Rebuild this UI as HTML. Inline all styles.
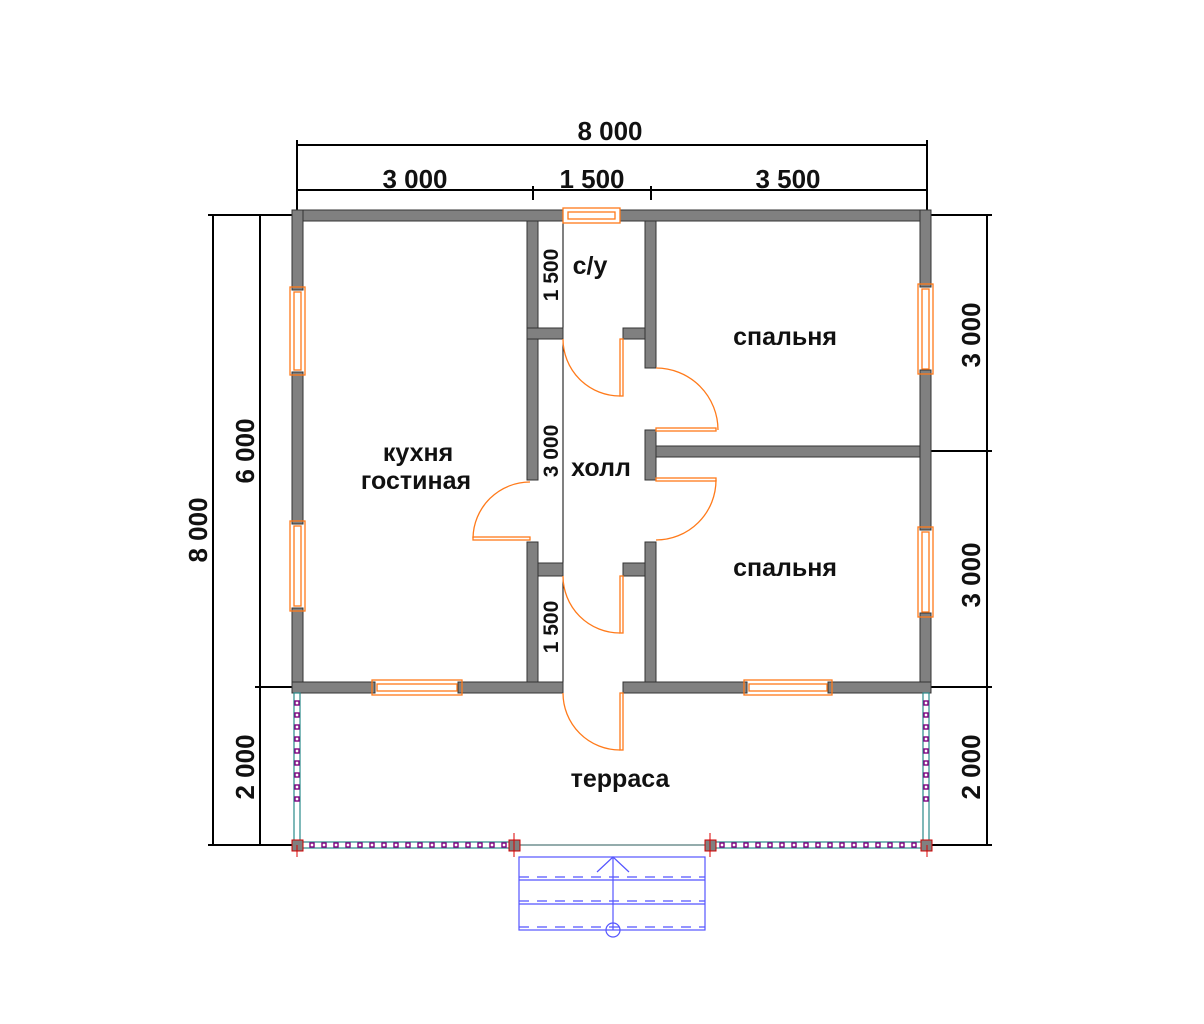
<!DOCTYPE html>
<html><head><meta charset="utf-8"><style>body{margin:0;background:#fff}svg{display:block}text{font-family:"Liberation Sans",sans-serif;font-weight:bold;fill:#111}</style></head><body>
<svg width="1204" height="1024" viewBox="0 0 1204 1024" xmlns="http://www.w3.org/2000/svg">
<g stroke="#000" stroke-width="2" fill="none">
<line x1="297" y1="145" x2="927" y2="145"/><line x1="297" y1="190" x2="927" y2="190"/>
<line x1="297" y1="140" x2="297" y2="210"/><line x1="927" y1="140" x2="927" y2="210"/>
<line x1="533" y1="186" x2="533" y2="200"/><line x1="651" y1="186" x2="651" y2="200"/>
<line x1="213" y1="215" x2="213" y2="845"/><line x1="260" y1="215" x2="260" y2="845"/>
<line x1="208" y1="215" x2="297" y2="215"/><line x1="255" y1="687" x2="297" y2="687"/><line x1="208" y1="845" x2="297" y2="845"/>
<line x1="987" y1="215" x2="987" y2="845"/>
<line x1="931" y1="215" x2="992" y2="215"/><line x1="931" y1="451" x2="992" y2="451"/><line x1="931" y1="687" x2="992" y2="687"/><line x1="931" y1="845" x2="992" y2="845"/>
</g>
<line x1="563" y1="212" x2="563" y2="690" stroke="#000" stroke-width="1"/>
<g font-size="26">
<text x="610" y="140" text-anchor="middle">8 000</text>
<text x="415" y="188" text-anchor="middle">3 000</text>
<text x="592" y="188" text-anchor="middle">1 500</text>
<text x="788" y="188" text-anchor="middle">3 500</text>
<text transform="translate(207,530) rotate(-90)" text-anchor="middle">8 000</text>
<text transform="translate(254,451) rotate(-90)" text-anchor="middle">6 000</text>
<text transform="translate(254,767) rotate(-90)" text-anchor="middle">2 000</text>
<text transform="translate(980,335) rotate(-90)" text-anchor="middle">3 000</text>
<text transform="translate(980,575) rotate(-90)" text-anchor="middle">3 000</text>
<text transform="translate(980,767) rotate(-90)" text-anchor="middle">2 000</text>
</g>
<g font-size="21">
<text transform="translate(558,275) rotate(-90)" text-anchor="middle">1 500</text>
<text transform="translate(558,451) rotate(-90)" text-anchor="middle">3 000</text>
<text transform="translate(558,627) rotate(-90)" text-anchor="middle">1 500</text>
</g>
<g fill="#808080" stroke="#333" stroke-width="1">
<rect x="292" y="210" width="271" height="11"/><rect x="620" y="210" width="311" height="11"/>
<rect x="292" y="210" width="11" height="80"/><rect x="292" y="372" width="11" height="152"/><rect x="292" y="608" width="11" height="85"/>
<rect x="920" y="210" width="11" height="77"/><rect x="920" y="370" width="11" height="160"/><rect x="920" y="613" width="11" height="80"/>
<rect x="292" y="682" width="83" height="11"/><rect x="458" y="682" width="105" height="11"/>
<rect x="623" y="682" width="124" height="11"/><rect x="828" y="682" width="103" height="11"/>
<rect x="527" y="221" width="11" height="107"/><rect x="527" y="328" width="36" height="11"/><rect x="527" y="339" width="11" height="141"/>
<rect x="527" y="542" width="11" height="140"/><rect x="538" y="563" width="25" height="13"/>
<rect x="645" y="221" width="11" height="147"/><rect x="623" y="328" width="22" height="11"/>
<rect x="645" y="430" width="11" height="50"/><rect x="656" y="446" width="264" height="11"/>
<rect x="645" y="542" width="11" height="140"/><rect x="623" y="563" width="22" height="13"/>
</g>
<g fill="none" stroke="#ff7a1a" stroke-width="1.3">
<rect x="563" y="208" width="57" height="15"/><rect x="568" y="212" width="47" height="7"/>
<rect x="290" y="287" width="15" height="88"/><rect x="294" y="292" width="7" height="78"/>
<rect x="290" y="521" width="15" height="90"/><rect x="294" y="526" width="7" height="80"/>
<rect x="918" y="284" width="15" height="90"/><rect x="922" y="289" width="7" height="80"/>
<rect x="918" y="527" width="15" height="90"/><rect x="922" y="532" width="7" height="80"/>
<rect x="372" y="680" width="90" height="15"/><rect x="377" y="684" width="80" height="7"/>
<rect x="744" y="680" width="88" height="15"/><rect x="749" y="684" width="78" height="7"/>
<path d="M563 339 A57 57 0 0 0 620 396"/><rect x="620" y="339" width="3" height="57"/>
<path d="M656 368 A62 62 0 0 1 718 430"/><rect x="656" y="428" width="60" height="3"/>
<path d="M656 540 A60 60 0 0 0 716 480"/><rect x="656" y="478" width="60" height="3"/>
<path d="M530 482 A57 57 0 0 0 473 538"/><rect x="473" y="537" width="57" height="3"/>
<path d="M563 576 A57 57 0 0 0 620 633"/><rect x="620" y="576" width="3" height="57"/>
<path d="M563 693 A57 57 0 0 0 620 750"/><rect x="620" y="693" width="3" height="57"/>
</g>
<g fill="none" stroke="#2a8a8a" stroke-width="1.2">
<rect x="294" y="693" width="6" height="150"/><rect x="923" y="693" width="6" height="150"/>
<rect x="300" y="842" width="214" height="6"/><rect x="710" y="842" width="213" height="6"/>
</g>
<line x1="514" y1="845" x2="710" y2="845" stroke="#2a5a5a" stroke-width="1"/>
<g fill="#fff" stroke="#800080" stroke-width="1.4">
<rect x="295" y="701" width="4" height="4"/><rect x="295" y="713" width="4" height="4"/><rect x="295" y="725" width="4" height="4"/><rect x="295" y="737" width="4" height="4"/><rect x="295" y="749" width="4" height="4"/><rect x="295" y="761" width="4" height="4"/><rect x="295" y="773" width="4" height="4"/><rect x="295" y="785" width="4" height="4"/><rect x="295" y="797" width="4" height="4"/>
<rect x="924" y="701" width="4" height="4"/><rect x="924" y="713" width="4" height="4"/><rect x="924" y="725" width="4" height="4"/><rect x="924" y="737" width="4" height="4"/><rect x="924" y="749" width="4" height="4"/><rect x="924" y="761" width="4" height="4"/><rect x="924" y="773" width="4" height="4"/><rect x="924" y="785" width="4" height="4"/><rect x="924" y="797" width="4" height="4"/>
<rect x="310" y="843" width="4" height="4"/><rect x="322" y="843" width="4" height="4"/><rect x="334" y="843" width="4" height="4"/><rect x="346" y="843" width="4" height="4"/><rect x="358" y="843" width="4" height="4"/><rect x="370" y="843" width="4" height="4"/><rect x="382" y="843" width="4" height="4"/><rect x="394" y="843" width="4" height="4"/><rect x="406" y="843" width="4" height="4"/><rect x="418" y="843" width="4" height="4"/><rect x="430" y="843" width="4" height="4"/><rect x="442" y="843" width="4" height="4"/><rect x="454" y="843" width="4" height="4"/><rect x="466" y="843" width="4" height="4"/><rect x="478" y="843" width="4" height="4"/><rect x="490" y="843" width="4" height="4"/><rect x="502" y="843" width="4" height="4"/>
<rect x="720" y="843" width="4" height="4"/><rect x="732" y="843" width="4" height="4"/><rect x="744" y="843" width="4" height="4"/><rect x="756" y="843" width="4" height="4"/><rect x="768" y="843" width="4" height="4"/><rect x="780" y="843" width="4" height="4"/><rect x="792" y="843" width="4" height="4"/><rect x="804" y="843" width="4" height="4"/><rect x="816" y="843" width="4" height="4"/><rect x="828" y="843" width="4" height="4"/><rect x="840" y="843" width="4" height="4"/><rect x="852" y="843" width="4" height="4"/><rect x="864" y="843" width="4" height="4"/><rect x="876" y="843" width="4" height="4"/><rect x="888" y="843" width="4" height="4"/><rect x="900" y="843" width="4" height="4"/><rect x="912" y="843" width="4" height="4"/>
</g>
<g fill="#808080" stroke="#c00" stroke-width="1">
<rect x="292" y="840" width="11" height="11"/><rect x="509" y="840" width="11" height="11"/><rect x="705" y="840" width="11" height="11"/><rect x="921" y="840" width="11" height="11"/>
</g>
<g stroke="#d00" stroke-width="1">
<line x1="514" y1="833" x2="514" y2="857"/><line x1="710" y1="833" x2="710" y2="857"/>
<line x1="297" y1="845" x2="297" y2="857"/><line x1="927" y1="845" x2="927" y2="857"/>
</g>
<g fill="none" stroke="#5555ff" stroke-width="1.2">
<rect x="519" y="857" width="186" height="73"/>
<line x1="519" y1="880" x2="705" y2="880"/><line x1="519" y1="904" x2="705" y2="904"/>
<g stroke-dasharray="10,8"><line x1="519" y1="877" x2="705" y2="877"/><line x1="519" y1="901" x2="705" y2="901"/><line x1="519" y1="927" x2="705" y2="927"/></g>
<line x1="613" y1="857" x2="613" y2="930"/><polyline points="597,872 613,857 629,872"/>
<circle cx="613" cy="930" r="7"/>
</g>
<g font-size="25">
<text x="590" y="274" text-anchor="middle">с/у</text>
<text x="785" y="345" text-anchor="middle">спальня</text>
<text x="785" y="576" text-anchor="middle">спальня</text>
<text x="418" y="461" text-anchor="middle">кухня</text>
<text x="416" y="489" text-anchor="middle">гостиная</text>
<text x="601" y="476" text-anchor="middle">холл</text>
<text x="620" y="787" text-anchor="middle">терраса</text>
</g>
</svg>
</body></html>
